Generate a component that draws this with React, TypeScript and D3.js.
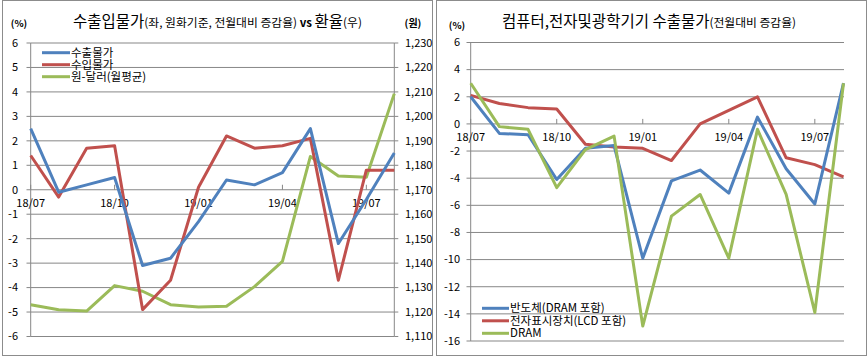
import React from "react";
import * as d3 from "d3";

const months = ["18/07","18/08","18/09","18/10","18/11","18/12","19/01","19/02","19/03","19/04","19/05","19/06","19/07","19/08"];
const xTickLabels = ["18/07","18/10","19/01","19/04","19/07"];

const exportPrice = [2.5,-0.1,0.2,0.5,-3.1,-2.8,-1.3,0.4,0.2,0.7,2.5,-2.2,-0.4,1.5];
const importPrice = [1.4,-0.3,1.7,1.8,-4.9,-3.7,0.1,2.2,1.7,1.8,2.1,-3.7,0.8,0.8];
const krwUsd = [1123.0,1120.9,1120.4,1130.8,1128.5,1123.0,1122.1,1122.4,1130.4,1140.7,1183.6,1175.6,1175.1,1209.3];

const semi = [2.0,-0.7,-0.8,-4.1,-1.8,-1.6,-9.9,-4.2,-3.4,-5.1,0.5,-3.3,-5.9,3.0];
const display = [2.1,1.5,1.2,1.1,-1.5,-1.7,-1.8,-2.7,0.0,1.0,2.0,-2.5,-3.0,-3.9];
const dram = [3.0,-0.2,-0.4,-4.7,-1.9,-0.9,-14.9,-6.8,-5.2,-9.9,-0.4,-5.2,-13.9,3.0];

const leftTicks = d3.range(-6, 7, 1);
const rightTicks = d3.range(1110, 1231, 10);
const r2Ticks = d3.range(-16, 7, 2);

const BLUE = "#4F81BD";
const RED = "#C0504D";
const GREEN = "#9BBB59";
const GRID = "#878787";
const FONT = "'Noto Sans CJK KR', 'Noto Sans', sans-serif";

const fmt = d3.format(",");

export default function App() {
  // left chart
  const xL = d3.scalePoint<string>().domain(months).range([30.7, 394.3]);
  const yL = d3.scaleLinear().domain([-6, 6]).range([336.5, 43]);
  const yR = d3.scaleLinear().domain([1110, 1230]).range([336.5, 43]);
  const lineL = d3.line<number>().x((_, i) => xL(months[i])!).y(d => yL(d));
  const lineR = d3.line<number>().x((_, i) => xL(months[i])!).y(d => yR(d));

  // right chart
  const x2 = d3.scalePoint<string>().domain(months).range([470.7, 843.5]);
  const y2 = d3.scaleLinear().domain([-16, 6]).range([341, 42.5]);
  const line2 = d3.line<number>().x((_, i) => x2(months[i])!).y(d => y2(d));

  const txt = { fontFamily: FONT, fill: "#000" } as const;

  return (
    <svg width={868} height={359} style={{ position: "absolute", left: 0, top: 0, background: "#fff" }}>
      {/* frames */}
      <rect x={2.5} y={0.5} width={430} height={355} fill="none" stroke="#8c8c8c" strokeWidth={1} />
      <rect x={436.5} y={0.5} width={430} height={355} fill="none" stroke="#8c8c8c" strokeWidth={1} />

      {/* ===== LEFT CHART ===== */}
      <text x={73} y={27} style={txt}>
        <tspan fontSize={15.5}>수출입물가</tspan>
        <tspan fontSize={11.8}>(좌, 원화기준, 전월대비 증감율)</tspan>
        <tspan fontSize={11.5} fontWeight="bold"> vs </tspan>
        <tspan fontSize={15.5}>환율</tspan>
        <tspan fontSize={11.8}>(우)</tspan>
      </text>
      <text x={19} y={27} fontSize={9.5} fontWeight="bold" textAnchor="middle" style={txt}>(%)</text>
      <text x={413} y={27} fontSize={10} fontWeight="bold" textAnchor="middle" style={txt}>(원)</text>

      {leftTicks.map(t => (
        <g key={"lg" + t}>
          <line x1={xL.range()[0]} x2={xL.range()[1]} y1={yL(t)} y2={yL(t)} stroke={GRID} strokeWidth={1} />
          <line x1={26.5} x2={xL.range()[0]} y1={yL(t)} y2={yL(t)} stroke={GRID} strokeWidth={1} />
          <text x={18} y={yL(t)} dy="0.35em" fontSize={11} textAnchor="end" style={txt}>{t}</text>
        </g>
      ))}
      {rightTicks.map(t => (
        <g key={"rg" + t}>
          <line x1={xL.range()[1]} x2={xL.range()[1] + 4} y1={yR(t)} y2={yR(t)} stroke={GRID} strokeWidth={1} />
          <text x={405} y={yR(t)} dy="0.35em" fontSize={11} textAnchor="start" style={txt}>{fmt(t)}</text>
        </g>
      ))}
      <line x1={xL.range()[0]} x2={xL.range()[0]} y1={yL(6)} y2={yL(-6)} stroke={GRID} />
      <line x1={xL.range()[1]} x2={xL.range()[1]} y1={yR(1230)} y2={yR(1110)} stroke={GRID} />
      {xTickLabels.map(m => (
        <g key={"lx" + m}>
          <line x1={xL(m)!} x2={xL(m)!} y1={yL(0) - 5} y2={yL(0)} stroke={GRID} />
          <text x={xL(m)!} y={yL(0) + 13} dy="0.35em" fontSize={11} textAnchor="middle" style={txt}>{m}</text>
        </g>
      ))}

      <path d={lineR(krwUsd)!} fill="none" stroke={GREEN} strokeWidth={3} strokeLinejoin="round" />
      <path d={lineL(importPrice)!} fill="none" stroke={RED} strokeWidth={3} strokeLinejoin="round" />
      <path d={lineL(exportPrice)!} fill="none" stroke={BLUE} strokeWidth={3} strokeLinejoin="round" />

      {[["수출물가", BLUE], ["수입물가", RED], ["원-달러(월평균)", GREEN]].map(([name, c], i) => (
        <g key={"ll" + i}>
          <line x1={42} x2={70} y1={52.7 + i * 12} y2={52.7 + i * 12} stroke={c} strokeWidth={3} />
          <text x={71} y={52.7 + i * 12} dy="0.35em" fontSize={11.5} style={txt}>{name}</text>
        </g>
      ))}

      {/* ===== RIGHT CHART ===== */}
      <text x={502} y={27} style={txt}>
        <tspan fontSize={15.5}>컴퓨터,전자및광학기기 수출물가</tspan>
        <tspan fontSize={11.8}>(전월대비 증감율)</tspan>
      </text>
      <text x={457} y={29} fontSize={9.5} fontWeight="bold" textAnchor="middle" style={txt}>(%)</text>

      {r2Ticks.map(t => (
        <g key={"r2" + t}>
          <line x1={466.5} x2={844} y1={y2(t)} y2={y2(t)} stroke={GRID} strokeWidth={1} />
          <text x={460} y={y2(t)} dy="0.35em" fontSize={11} textAnchor="end" style={txt}>{t}</text>
        </g>
      ))}
      <line x1={x2.range()[0]} x2={x2.range()[0]} y1={y2(6)} y2={y2(-16)} stroke={GRID} />
      {xTickLabels.map(m => (
        <g key={"rx" + m}>
          <line x1={x2(m)!} x2={x2(m)!} y1={y2(0) - 5} y2={y2(0)} stroke={GRID} />
          <text x={x2(m)!} y={y2(0) + 13} dy="0.35em" fontSize={11} textAnchor="middle" style={txt}>{m}</text>
        </g>
      ))}

      <path d={line2(display)!} fill="none" stroke={RED} strokeWidth={3} strokeLinejoin="round" />
      <path d={line2(semi)!} fill="none" stroke={BLUE} strokeWidth={3} strokeLinejoin="round" />
      <path d={line2(dram)!} fill="none" stroke={GREEN} strokeWidth={3} strokeLinejoin="round" />

      {[["반도체(DRAM 포함)", BLUE], ["전자표시장치(LCD 포함)", RED], ["DRAM", GREEN]].map(([name, c], i) => (
        <g key={"rl" + i}>
          <line x1={482} x2={509} y1={308.3 + i * 12.5} y2={308.3 + i * 12.5} stroke={c} strokeWidth={3} />
          <text x={510} y={308.3 + i * 12.5} dy="0.35em" fontSize={11.5} style={txt}>{name}</text>
        </g>
      ))}
    </svg>
  );
}
